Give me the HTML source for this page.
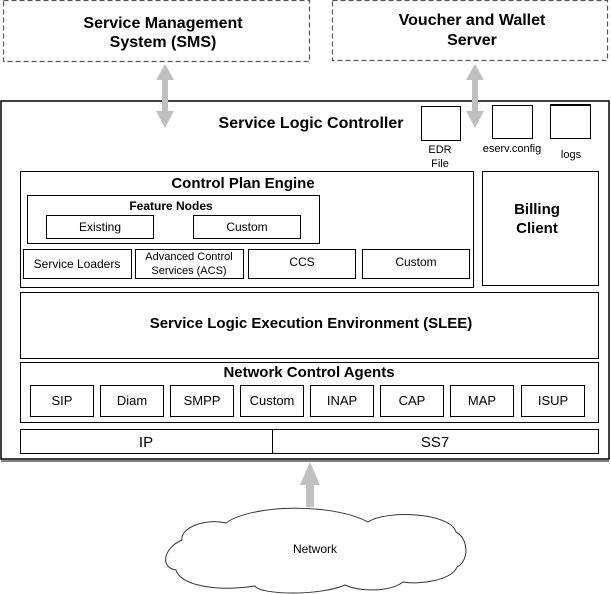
<!DOCTYPE html>
<html><head><style>body{margin:0;background:#fff}svg{display:block}text{font-family:"Liberation Sans",sans-serif;fill:#000}</style></head><body>
<svg width="611" height="594" viewBox="0 0 611 594" xmlns="http://www.w3.org/2000/svg">
<g fill="none" stroke="#555" stroke-width="1.2" stroke-dasharray="5,3">
<rect x="3.5" y="0.5" width="306" height="61"/>
<rect x="332.5" y="0.5" width="275" height="60"/>
</g>
<g font-weight="bold" font-size="16" text-anchor="middle">
<text x="163" y="28">Service Management</text><text x="163" y="47">System (SMS)</text>
<text x="472" y="25">Voucher and Wallet</text><text x="472" y="45">Server</text>
</g>
<rect x="1" y="101" width="608" height="358" fill="#fff" stroke="#000" stroke-width="1.5"/>
<line x1="1" y1="461" x2="609" y2="461" stroke="#000" stroke-width="1"/>
<g fill="#c0c0c0">
<polygon points="165,64 174,80 168,80 168,111 174,111 165,128 156,111 162,111 162,80 156,80"/>
<polygon points="475,64 484,80 478,80 478,111 484,111 475,128 466,111 472,111 472,80 466,80"/>
<polygon points="310,462 320,485 314,485 314,507 306,507 306,485 300,485"/>
</g>
<text x="311" y="128" font-weight="bold" font-size="16" text-anchor="middle">Service Logic Controller</text>
<g fill="#fff" stroke="#000">
<rect x="421.5" y="106.5" width="39" height="34"/>
<rect x="492.5" y="105.5" width="40" height="33"/>
<rect x="550.5" y="104.5" width="40" height="34"/>
</g>
<line x1="550" y1="105" x2="591" y2="105" stroke="#000" stroke-width="2"/>
<g font-size="11" text-anchor="middle">
<text x="440" y="153">EDR</text><text x="440" y="167">File</text>
<text x="512" y="152">eserv.config</text><text x="571" y="158">logs</text>
</g>
<g fill="none" stroke="#000">
<rect x="20.5" y="171.5" width="453" height="116"/>
<rect x="27.5" y="195.5" width="292" height="48"/>
<rect x="46.5" y="215.5" width="107" height="23"/>
<rect x="193.5" y="215.5" width="107" height="23"/>
<rect x="23.5" y="249.5" width="108" height="29"/>
<rect x="135.5" y="249.5" width="108" height="29"/>
<rect x="248.5" y="249.5" width="107" height="29"/>
<rect x="362.5" y="249.5" width="107" height="29"/>
<rect x="482.5" y="171.5" width="116" height="114"/>
<rect x="20.5" y="292.5" width="578" height="66"/>
<rect x="20.5" y="362.5" width="578" height="60"/>
<rect x="30.5" y="385.5" width="63" height="31"/>
<rect x="100.5" y="385.5" width="63" height="31"/>
<rect x="170.5" y="385.5" width="63" height="31"/>
<rect x="240.5" y="385.5" width="63" height="31"/>
<rect x="310.5" y="385.5" width="63" height="31"/>
<rect x="380.5" y="385.5" width="63" height="31"/>
<rect x="450.5" y="385.5" width="63" height="31"/>
<rect x="521.5" y="385.5" width="63" height="31"/>
<rect x="20.5" y="429.5" width="578" height="24"/>
<line x1="272.5" y1="429" x2="272.5" y2="454"/>
</g>
<g font-weight="bold" text-anchor="middle">
<text x="243" y="188" font-size="15">Control Plan Engine</text>
<text x="171" y="210" font-size="12">Feature Nodes</text>
<text x="537" y="214" font-size="15">Billing</text><text x="537" y="233" font-size="15">Client</text>
<text x="311" y="328" font-size="15">Service Logic Execution Environment (SLEE)</text>
<text x="309" y="377" font-size="15">Network Control Agents</text>
</g>
<g font-size="12" text-anchor="middle">
<text x="100" y="231">Existing</text><text x="247" y="231">Custom</text>
<text x="77" y="268">Service Loaders</text>
<text x="189" y="260" font-size="11">Advanced Control</text><text x="189" y="274" font-size="11">Services (ACS)</text>
<text x="302" y="266">CCS</text><text x="416" y="266">Custom</text>
<text x="62" y="405" font-size="13">SIP</text><text x="132" y="405" font-size="13">Diam</text>
<text x="202" y="405" font-size="13">SMPP</text><text x="272" y="405" font-size="13">Custom</text>
<text x="342" y="405" font-size="13">INAP</text><text x="412" y="405" font-size="13">CAP</text>
<text x="482" y="405" font-size="13">MAP</text><text x="553" y="405" font-size="13">ISUP</text>
<text x="146" y="447" font-size="15">IP</text><text x="435" y="447" font-size="15">SS7</text>
</g>
<path d="M226,523 C250,505 330,502 368,522 C385,510 450,512 456,532 C468,538 470,560 457,567 C452,580 420,585 403,582 C390,592 360,592 345,585 C320,596 260,595 255,586 C215,592 180,585 176,570 C160,568 163,548 182,540 C180,528 205,518 226,523 Z" fill="#fff" stroke="#333" stroke-width="1"/>
<text x="315" y="553" font-size="12" text-anchor="middle">Network</text>
</svg>
</body></html>
